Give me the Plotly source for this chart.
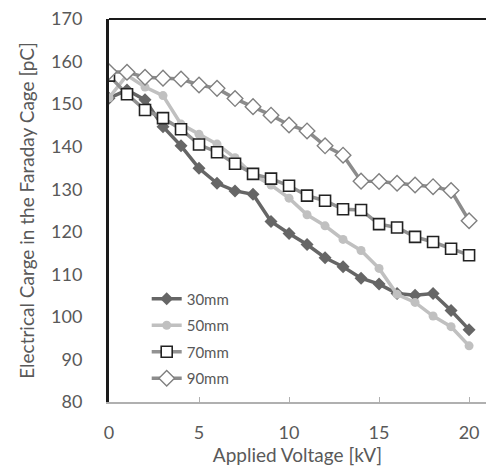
import plotly.graph_objects as go

# Applied voltage steps [kV]
voltage = list(range(0, 21))

# Charge collected in the Faraday cage [pC] for each electrode gap
charge_30mm = [151.4, 153.3, 151.0, 144.7, 140.2, 134.9, 131.4, 129.6, 128.8, 122.4, 119.6,
               117.0, 113.9, 111.8, 109.1, 107.7, 105.5, 105.1, 105.5, 101.5, 97.0]
charge_50mm = [151.5, 156.8, 154.0, 152.0, 145.3, 142.9, 140.6, 137.4, 133.4, 131.0, 127.9,
               124.0, 121.4, 118.2, 115.6, 111.4, 105.3, 103.4, 100.2, 97.7, 93.2]
charge_70mm = [156.7, 152.3, 148.6, 146.7, 144.1, 140.5, 138.7, 136.0, 133.6, 132.5, 130.8,
               128.5, 127.3, 125.3, 125.1, 121.8, 121.0, 118.8, 117.6, 116.0, 114.5]
charge_90mm = [157.6, 157.5, 156.3, 156.1, 155.9, 154.5, 153.7, 151.3, 149.4, 147.4, 145.1,
               143.7, 140.2, 138.0, 131.9, 131.8, 131.4, 131.0, 130.6, 129.7, 122.6]

x_ticks = [0, 5, 10, 15, 20]
y_ticks = [80, 90, 100, 110, 120, 130, 140, 150, 160, 170]

FONT = "Lato"
TEXT = "#595959"

fig = go.Figure()

fig.add_trace(go.Scatter(
    x=voltage, y=charge_30mm, name="30mm", mode="lines+markers", legendgroup="g30",
    line=dict(color="#666666", width=3.5),
    marker=dict(symbol="diamond", size=10, color="#666666"),
))
fig.add_trace(go.Scatter(
    x=voltage, y=charge_50mm, name="50mm", mode="lines+markers", legendgroup="g50",
    line=dict(color="#c0c0c0", width=3.5),
    marker=dict(symbol="circle", size=9, color="#c0c0c0"),
))
fig.add_trace(go.Scatter(
    x=voltage, y=charge_70mm, name="70mm", mode="lines+markers", legendgroup="g70",
    line=dict(color="#929292", width=3.5),
    marker=dict(symbol="square", size=11, color="white",
                line=dict(color="#222222", width=1.6)),
))
fig.add_trace(go.Scatter(
    x=voltage, y=charge_90mm, name="90mm", mode="lines+markers", legendgroup="g90",
    line=dict(color="#8c8c8c", width=3.5),
    marker=dict(symbol="diamond", size=12, color="white",
                line=dict(color="#808080", width=1.4)),
))

fig.update_layout(
    width=486, height=472,
    margin=dict(l=109, r=0, t=19, b=70),
    paper_bgcolor="white", plot_bgcolor="white",
    font=dict(family=FONT, color=TEXT, size=18),
    showlegend=True,
    legend=dict(
        x=0.1, y=0.312, xanchor="left", yanchor="top",
        bgcolor="rgba(0,0,0,0)", font=dict(size=15, color=TEXT),
        itemwidth=30, tracegroupgap=4,
    ),
    xaxis=dict(
        range=[0, 20.94], tickvals=x_ticks, showgrid=False, zeroline=False,
        showline=True, linecolor="#b0b0b0", linewidth=1.5,
        ticks="inside", ticklen=5, tickcolor="#b0b0b0",
        ticklabelstandoff=14,
        tickfont=dict(size=18, color=TEXT),
        title=dict(text="Applied Voltage [kV]", font=dict(size=19, color=TEXT), standoff=5),
    ),
    yaxis=dict(
        range=[80, 170], tickvals=y_ticks, showgrid=False, zeroline=False,
        showline=True, linecolor="#1a1a1a", linewidth=3,
        ticks="", ticklabelstandoff=20, tickfont=dict(size=18, color=TEXT),
        title=dict(text="Electrical Carge in the Faraday Cage [pC]",
                   font=dict(size=19, color=TEXT), standoff=12),
    ),
    shapes=[dict(type="line", xref="paper", yref="paper", x0=0, x1=1, y0=1, y1=1,
                 line=dict(color="#1a1a1a", width=2))],
)

fig.write_html("out.html")
